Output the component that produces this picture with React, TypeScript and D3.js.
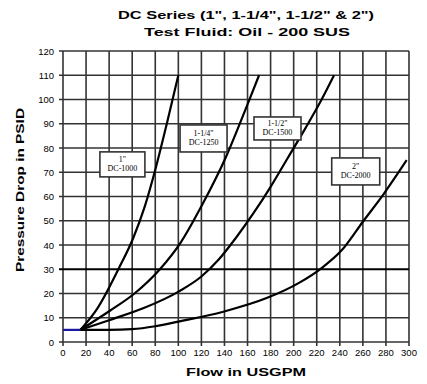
import React from "react";
import * as d3 from "d3";

const xTicks = [0, 20, 40, 60, 80, 100, 120, 140, 160, 180, 200, 220, 240, 260, 280, 300];
const yTicks = [0, 10, 20, 30, 40, 50, 60, 70, 80, 90, 100, 110, 120];

const curve1: [number, number][] = [[15, 5], [30, 14], [48, 30], [61, 43], [71, 56], [80, 71], [90, 90], [100, 110]];
const curve114: [number, number][] = [[15, 5], [41, 13], [62, 20], [84, 30], [102, 41], [120, 56], [141, 76], [160, 98], [170, 110]];
const curve112: [number, number][] = [[15, 5], [40, 9], [70, 14], [101, 21], [120, 27], [135, 34], [150, 43], [165, 53], [180, 64], [195, 76], [210, 88], [222, 98], [235, 110]];
const curve2: [number, number][] = [[15, 5], [40, 5], [60, 5.3], [80, 6.5], [101, 8.5], [139, 12.5], [176, 18], [205, 24.5], [224, 30.4], [242, 38], [260, 49.6], [278, 61], [298, 75]];
const inletLine: [number, number][] = [[0, 5], [15, 5]];

const labels = [
  { l1: "1\"", l2: "DC-1000", x: 32, y: 78.4, w: 45, h: 25 },
  { l1: "1-1/4\"", l2: "DC-1250", x: 101.5, y: 89.5, w: 47, h: 27 },
  { l1: "1-1/2\"", l2: "DC-1500", x: 165.6, y: 92.8, w: 47, h: 23 },
  { l1: "2\"", l2: "DC-2000", x: 233, y: 75.9, w: 48, h: 27 },
];

export default function App() {
  const W = 427, H = 384;
  const x = d3.scaleLinear().domain([0, 300]).range([63, 409]);
  const y = d3.scaleLinear().domain([0, 120]).range([342, 51]);
  const line = d3.line<[number, number]>().x(d => x(d[0])).y(d => y(d[1])).curve(d3.curveMonotoneX);
  const sans = "Liberation Sans, Arial, sans-serif";
  const serif = "Liberation Serif, Times New Roman, serif";
  return (
    <svg width={W} height={H} style={{ position: "absolute", left: 0, top: 0, background: "#fff" }}>
      <text x={246} y={19} textAnchor="middle" fontFamily={sans} fontWeight="bold" fontSize={11} textLength={256} lengthAdjust="spacingAndGlyphs">DC Series (1", 1-1/4", 1-1/2" &amp; 2")</text>
      <text x={247} y={36} textAnchor="middle" fontFamily={sans} fontWeight="bold" fontSize={11} textLength={206} lengthAdjust="spacingAndGlyphs">Test Fluid: Oil - 200 SUS</text>
      {/* grid */}
      {xTicks.map(t => (
        <line key={"vx" + t} x1={x(t)} x2={x(t)} y1={y(120)} y2={y(0) + 4} stroke="#333" strokeWidth={1.6} />
      ))}
      {yTicks.map(t => (
        <line key={"hy" + t} x1={x(0) - 4} x2={x(300)} y1={y(t)} y2={y(t)} stroke={t === 30 ? "#000" : "#333"} strokeWidth={t === 30 ? 2.2 : 1.6} />
      ))}
      {/* tick labels */}
      {yTicks.map(t => (
        <text key={"ty" + t} x={54} y={y(t) + 3.5} textAnchor="end" fontFamily={sans} fontSize={9.5}>{t}</text>
      ))}
      {xTicks.map(t => (
        <text key={"tx" + t} x={x(t)} y={356} textAnchor="middle" fontFamily={sans} fontSize={9.5}>{t}</text>
      ))}
      <text x={246} y={376} textAnchor="middle" fontFamily={sans} fontWeight="bold" fontSize={11} textLength={120} lengthAdjust="spacingAndGlyphs">Flow in USGPM</text>
      <text transform="translate(24,190) rotate(-90)" textAnchor="middle" fontFamily={sans} fontWeight="bold" fontSize={10.5} textLength={164} lengthAdjust="spacingAndGlyphs">Pressure Drop in PSID</text>
      {/* curves */}
      {[curve1, curve114, curve112, curve2].map((c, i) => (
        <path key={"c" + i} d={line(c) || ""} fill="none" stroke="#000" strokeWidth={2.2} />
      ))}
      <path d={line(inletLine) || ""} fill="none" stroke="#1a1aa0" strokeWidth={2.2} />
      {/* labels */}
      {labels.map((l, i) => {
        const bx = x(l.x), by = y(l.y);
        return (
          <g key={"lb" + i}>
            <rect x={bx} y={by} width={l.w} height={l.h} fill="#fff" stroke="#333" strokeWidth={1.6} />
            <text x={bx + l.w / 2} y={by + l.h / 2 - 2} textAnchor="middle" fontFamily={serif} fontSize={8}>{l.l1}</text>
            <text x={bx + l.w / 2} y={by + l.h / 2 + 7} textAnchor="middle" fontFamily={serif} fontSize={8}>{l.l2}</text>
          </g>
        );
      })}
    </svg>
  );
}
